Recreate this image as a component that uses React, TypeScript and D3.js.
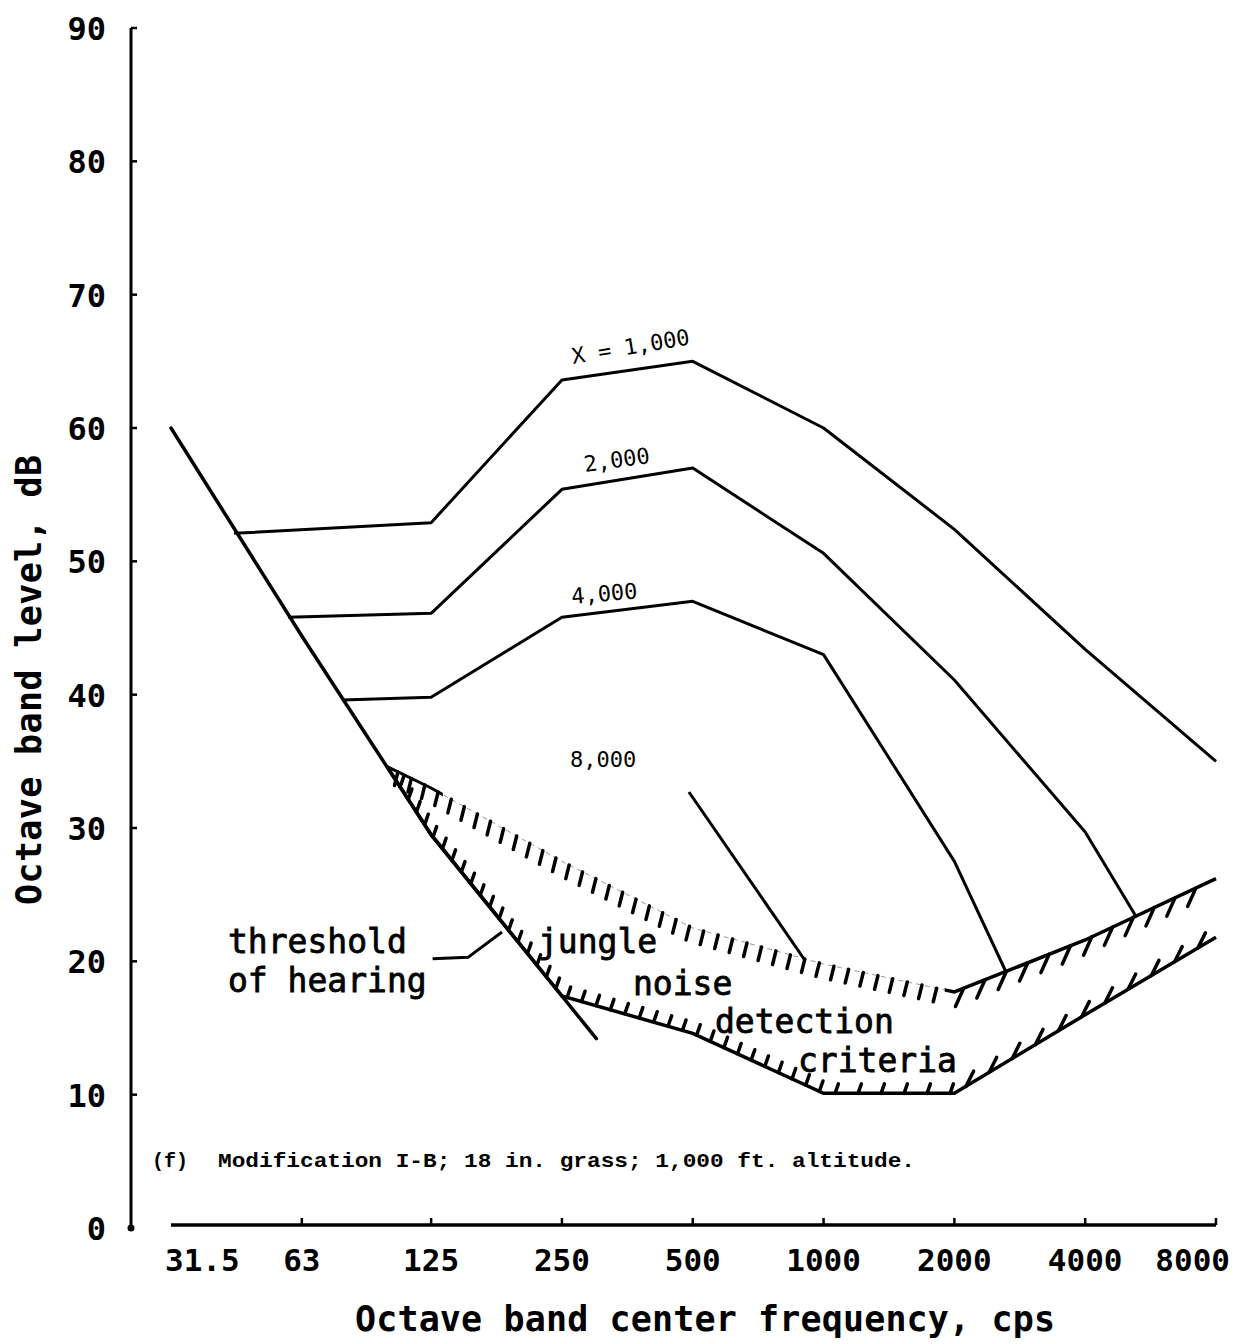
import React from 'react';
import * as d3 from 'd3';

// octave band centre frequencies (cps) and their labels
const bandFreqs = [31.5, 63, 125, 250, 500, 1000, 2000, 4000, 8000];
const bandLabels = ['31.5', '63', '125', '250', '500', '1000', '2000', '4000', '8000'];
const levelTicks = [0, 10, 20, 30, 40, 50, 60, 70, 80, 90];

// [frequency, dB]
const thresholdOfHearing: [number, number][] = [[31.5, 60], [63, 44.4], [125, 29.5], [250, 17.4], [300, 14.2]];
const curveX1000: [number, number][] = [[44, 52.1], [125, 52.9], [250, 63.6], [500, 65.0], [1000, 60.0], [2000, 52.4], [4000, 43.4], [8000, 35.0]];
const curveX2000: [number, number][] = [[58.6, 45.8], [125, 46.1], [250, 55.4], [500, 57.0], [1000, 50.6], [2000, 41.1], [4000, 29.7], [5250, 23.3]];
const curveX4000: [number, number][] = [[78, 39.6], [125, 39.8], [250, 45.8], [500, 47.0], [1000, 43.0], [2000, 27.5], [2630, 19.2]];
const curveX8000: [number, number][] = [[490, 32.7], [905, 20.1]];
const criteriaUpper: [number, number][] = [[99, 34.6], [125, 33.0], [250, 27.5], [500, 22.5], [1000, 19.8], [2000, 17.7], [4000, 21.6], [8000, 26.2]];
const criteriaLower: [number, number][] = [[99, 34.6], [125, 29.5], [250, 17.4], [500, 14.6], [1000, 10.1], [2000, 10.1], [4000, 16.0], [8000, 21.8]];
// leader from "threshold of hearing" label to the curve
const thresholdLeader: [number, number][] = [[126, 20.2], [152, 20.3], [182, 22.2]];

const W = 1234;
const H = 1344;
const mono = '"DejaVu Sans Mono", monospace';

const x = d3.scaleLog().base(2).domain([31.5, 8000]).range([171, 1216]);
const y = d3.scaleLinear().domain([0, 90]).range([1228, 28]);
const line = d3.line<[number, number]>().x(d => x(d[0])).y(d => y(d[1]));

// short tick marks spaced along a polyline (the hatching of the criteria band)
function hatches(data: [number, number][], spacing: number, dir: [number, number], len: number,
  start = spacing / 2, toF = Infinity) {
  const pts = data.map(d => [x(d[0]), y(d[1])]);
  const n = Math.hypot(dir[0], dir[1]);
  const ux = dir[0] / n, uy = dir[1] / n;
  const out: number[][] = [];
  let carry = start;
  const x1Lim = isFinite(toF) ? x(toF) : 1e9;
  for (let i = 0; i < pts.length - 1; i++) {
    const [ax, ay] = pts[i], [bx, by] = pts[i + 1];
    const seg = Math.hypot(bx - ax, by - ay);
    let d = carry;
    while (d <= seg) {
      const t = d / seg;
      const px = ax + t * (bx - ax), py = ay + t * (by - ay);
      if (px <= x1Lim) out.push([px, py, px + ux * len, py + uy * len]);
      d += spacing;
    }
    carry = d - seg;
  }
  return out;
}

const App: React.FC = () => {
  const upperHatchL = hatches(criteriaUpper, 15, [-0.25, 1], 14, 12, 1880);
  const upperHatchR = hatches(criteriaUpper.filter(d => d[0] >= 2000), 23, [-0.45, 1], 20, 10);
  const lowerHatchL = hatches(criteriaLower.filter(d => d[0] <= 1000), 15, [0.35, -1], 11, 24);
  const lowerHatchB = hatches(criteriaLower.filter(d => d[0] >= 1000 && d[0] <= 2000), 23, [0.35, -1], 10);
  const lowerHatchR = hatches(criteriaLower.filter(d => d[0] >= 2000), 27, [0.5, -1], 17);

  return (
    <svg width={W} height={H} viewBox={`0 0 ${W} ${H}`}
      style={{ position: 'absolute', left: 0, top: 0, background: '#fff' }}>
      <defs>
        <clipPath id="solidL"><rect x={0} y={0} width={x(133)} height={H} /></clipPath>
        <clipPath id="solidR"><rect x={x(1900)} y={0} width={W} height={H} /></clipPath>
      </defs>

      {/* y axis */}
      <line x1={131} x2={131} y1={y(0)} y2={y(90)} stroke="#000" strokeWidth={3} />
      <circle cx={131} cy={y(0)} r={3.5} fill="#000" />
      {levelTicks.map(t => (
        <g key={t}>
          {t > 0 && <line x1={131} x2={137} y1={y(t)} y2={y(t)} stroke="#000" strokeWidth={2.5} />}
          <text x={106} y={y(t)} dy="0.38em" textAnchor="end" fontFamily={mono}
            fontWeight="bold" fontSize={32} fill="#000">{t}</text>
        </g>
      ))}
      <text transform={`translate(28,${680}) rotate(-90)`} textAnchor="middle" dy="0.36em"
        fontFamily={mono} fontWeight="bold" fontSize={35} textLength={450} lengthAdjust="spacing">
        Octave band level, dB
      </text>

      {/* x axis */}
      <line x1={x(31.5)} x2={x(8000)} y1={y(0) - 3} y2={y(0) - 3} stroke="#000" strokeWidth={3.5} />
      {bandFreqs.slice(1).map(f => (
        <line key={f} x1={x(f)} x2={x(f)} y1={y(0) - 3} y2={y(0) - 10} stroke="#000" strokeWidth={2.5} />
      ))}
      {bandFreqs.map((f, i) => {
        const first = i === 0, last = i === bandFreqs.length - 1;
        return (
          <text key={f} x={first ? x(f) - 6 : last ? x(f) + 14 : x(f)} y={1271}
            textAnchor={first ? 'start' : last ? 'end' : 'middle'}
            fontFamily={mono} fontWeight="bold" fontSize={31}>{bandLabels[i]}</text>
        );
      })}
      <text x={705} y={1331} textAnchor="middle" fontFamily={mono} fontWeight="bold"
        fontSize={35} textLength={700} lengthAdjust="spacing">
        Octave band center frequency, cps
      </text>

      {/* criteria band */}
      <path d={line(criteriaUpper) || ''} fill="none" stroke="#999" strokeWidth={1} strokeDasharray="5 4" />
      <path d={line(criteriaUpper) || ''} fill="none" stroke="#000" strokeWidth={3} clipPath="url(#solidL)" />
      <path d={line(criteriaUpper) || ''} fill="none" stroke="#000" strokeWidth={3.5} clipPath="url(#solidR)" />
      <path d={line(criteriaLower) || ''} fill="none" stroke="#000" strokeWidth={3.5} />
      {[...upperHatchL, ...upperHatchR, ...lowerHatchL, ...lowerHatchB, ...lowerHatchR].map((h, i) => (
        <line key={i} x1={h[0]} y1={h[1]} x2={h[2]} y2={h[3]} stroke="#000" strokeWidth={3.5} strokeLinecap="round" />
      ))}

      {/* curves */}
      <path d={line(thresholdOfHearing) || ''} fill="none" stroke="#000" strokeWidth={3.5} strokeLinecap="round" />
      {[curveX1000, curveX2000, curveX4000, curveX8000].map((c, i) => (
        <path key={i} d={line(c) || ''} fill="none" stroke="#000" strokeWidth={3} strokeLinejoin="round" />
      ))}
      <path d={line(thresholdLeader) || ''} fill="none" stroke="#000" strokeWidth={3} />

      {/* curve labels */}
      <g fontFamily={mono} fontSize={22} fill="#000">
        <text transform="translate(573,364) rotate(-9.5)">X = 1,000</text>
        <text transform="translate(585,472) rotate(-8)">2,000</text>
        <text transform="translate(572,604) rotate(-5)">4,000</text>
        <text x={570} y={767}>8,000</text>
      </g>

      {/* annotations */}
      <g fontFamily={mono} fontSize={33} fill="#000" stroke="#000" strokeWidth={0.8}>
        <text x={228} y={953}>threshold</text>
        <text x={228} y={992}>of hearing</text>
        <text x={538} y={953}>jungle</text>
        <text x={633} y={995}>noise</text>
        <text x={715} y={1033}>detection</text>
        <text x={798} y={1072}>criteria</text>
      </g>

      <text x={152} y={1167} fontFamily='"Liberation Mono", monospace' fontWeight="bold" fontSize={20}>(f)</text>
      <text x={218} y={1167} fontFamily='"Liberation Mono", monospace' fontWeight="bold" fontSize={21}
        textLength={697} lengthAdjust="spacingAndGlyphs">
        Modification I-B; 18 in. grass; 1,000 ft. altitude.
      </text>
    </svg>
  );
};

export default App;
